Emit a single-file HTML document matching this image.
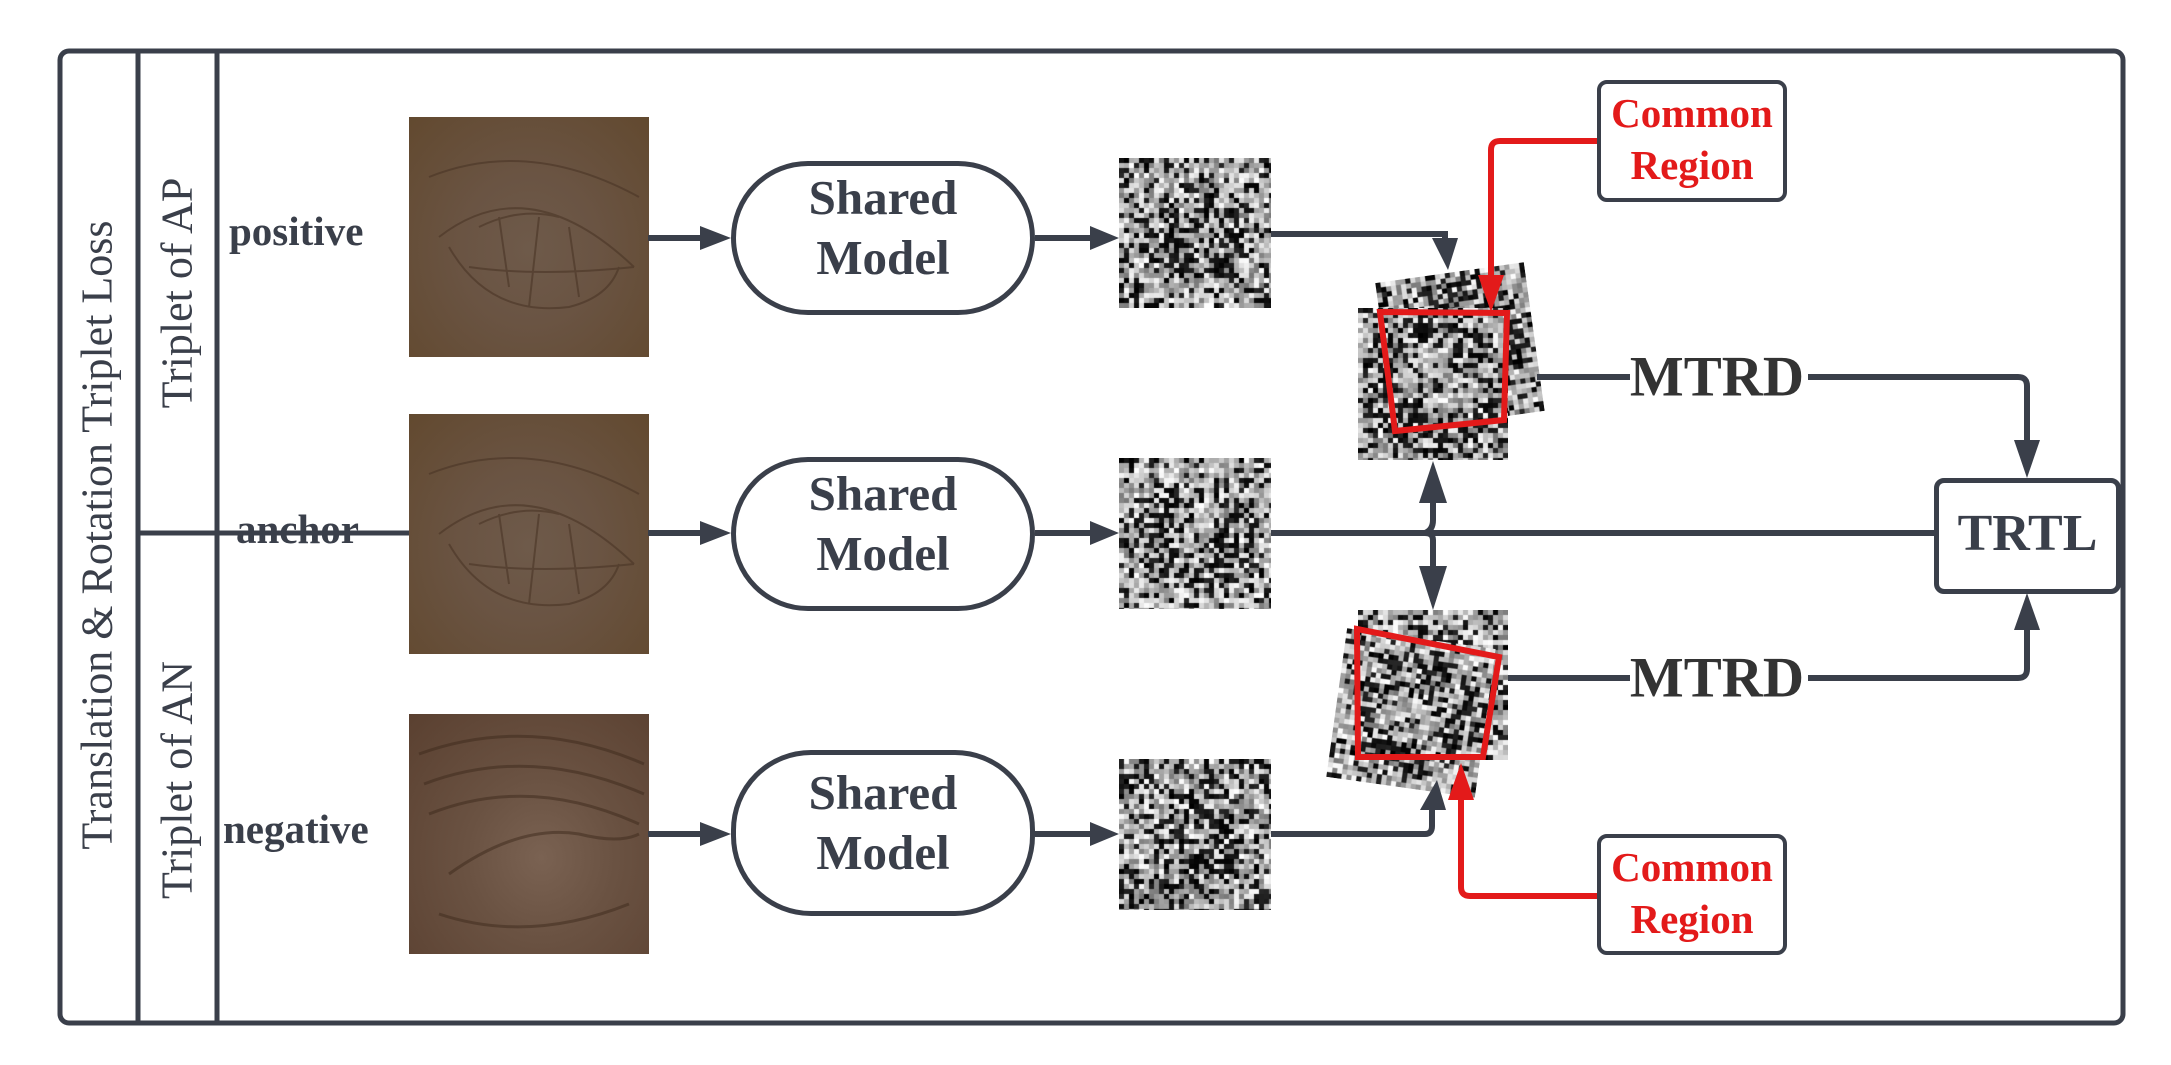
<!DOCTYPE html>
<html><head><meta charset="utf-8">
<style>
html,body{margin:0;padding:0;background:#fff;}
#wrap{position:relative;width:2171px;height:1065px;overflow:hidden;background:#fff;font-family:"Liberation Serif",serif;color:#3a3f4a;}
.abs{position:absolute;}
.skin{position:absolute;width:240px;height:240px;background:radial-gradient(ellipse at 50% 55%,#6e5a4a 0%,#6a5443 40%,#62492f 100%);overflow:hidden;}
.lbl{position:absolute;font-weight:bold;font-size:41px;white-space:nowrap;}
.pill{position:absolute;border:5px solid #3a3f4a;border-radius:80px;background:#fff;box-sizing:border-box;display:flex;align-items:center;justify-content:center;text-align:center;font-weight:bold;font-size:49px;line-height:60px;color:#3a3f4a;padding-bottom:20px;}
.cr{position:absolute;border:4px solid #3a3f4a;border-radius:10px;background:#fff;box-sizing:border-box;display:flex;align-items:center;justify-content:center;text-align:center;font-weight:bold;font-size:41px;line-height:52px;color:#e31a1a;padding-bottom:4px;}
canvas{position:absolute;}
</style></head><body>
<div id="wrap">
<svg class="abs" style="left:0;top:0" width="2171" height="1065">
<rect x="60" y="51" width="2063" height="972" rx="9" fill="none" stroke="#3a3f4a" stroke-width="5"/>
<line x1="138" y1="51" x2="138" y2="1023" stroke="#3a3f4a" stroke-width="5"/>
<line x1="217" y1="51" x2="217" y2="1023" stroke="#3a3f4a" stroke-width="5"/>
</svg>

<div class="abs" style="left:97px;top:535px;transform:translate(-50%,-50%) rotate(-90deg);font-size:44px;white-space:nowrap;">Translation &amp; Rotation Triplet Loss</div>
<div class="abs" style="left:177px;top:293px;transform:translate(-50%,-50%) rotate(-90deg);font-size:44px;white-space:nowrap;">Triplet of AP</div>
<div class="abs" style="left:177px;top:780px;transform:translate(-50%,-50%) rotate(-90deg);font-size:44px;white-space:nowrap;">Triplet of AN</div>

<div class="lbl" style="left:229px;top:207px;">positive</div>
<div class="lbl" style="left:236px;top:505px;">anchor</div>
<div class="lbl" style="left:223px;top:805px;">negative</div>

<svg class="abs" style="left:0;top:0" width="2171" height="1065">
<line x1="138" y1="533" x2="410" y2="533" stroke="#3a3f4a" stroke-width="5"/>
</svg>

<div class="skin" style="left:409px;top:117px;"><svg width="240" height="240"><g fill="none" stroke="#4a3526" stroke-width="2" opacity="0.6"><path d="M30 120 Q120 50 225 150"/><path d="M40 130 Q80 200 160 190 Q200 180 210 150"/><path d="M70 110 Q110 90 150 100"/><path d="M60 150 Q130 160 225 150"/><path d="M90 100 L100 170 M130 100 L120 190 M160 110 L170 180"/><path d="M20 60 Q120 20 230 80"/></g></svg></div>
<div class="skin" style="left:409px;top:414px;"><svg width="240" height="240"><g fill="none" stroke="#4a3526" stroke-width="2" opacity="0.6"><path d="M30 120 Q120 50 225 150"/><path d="M40 130 Q80 200 160 190 Q200 180 210 150"/><path d="M70 110 Q110 90 150 100"/><path d="M60 150 Q130 160 225 150"/><path d="M90 100 L100 170 M130 100 L120 190 M160 110 L170 180"/><path d="M20 60 Q120 20 230 80"/></g></svg></div>
<div class="skin" style="left:409px;top:714px;background:radial-gradient(ellipse at 55% 60%,#7a6252 0%,#6a5242 40%,#5a4030 100%);"><svg width="240" height="240"><g fill="none" stroke="#3e2a1c" stroke-width="3" opacity="0.5"><path d="M10 40 Q120 0 235 50"/><path d="M15 70 Q120 30 235 80"/><path d="M20 100 Q120 60 230 110"/><path d="M40 160 Q110 110 170 120 Q210 130 230 120"/><path d="M30 200 Q120 230 220 190"/></g></svg></div>

<div class="pill" style="left:731px;top:161px;width:304px;height:154px;">Shared<br>Model</div>
<div class="pill" style="left:731px;top:457px;width:304px;height:154px;">Shared<br>Model</div>
<div class="pill" style="left:731px;top:750px;width:304px;height:166px;">Shared<br>Model</div>

<canvas id="f1" width="152" height="150" style="left:1119px;top:158px;"></canvas>
<canvas id="f2" width="152" height="151" style="left:1119px;top:458px;"></canvas>
<canvas id="f3" width="152" height="151" style="left:1119px;top:759px;"></canvas>

<canvas id="r1" width="150" height="150" style="left:1385px;top:272px;transform:rotate(-8deg);"></canvas>
<canvas id="a1" width="150" height="152" style="left:1358px;top:308px;"></canvas>
<canvas id="a2" width="150" height="150" style="left:1358px;top:610px;"></canvas>
<canvas id="r2" width="150" height="150" style="left:1336px;top:638px;transform:rotate(8deg);"></canvas>

<svg class="abs" style="left:0;top:0" width="2171" height="1065">
<g stroke="#3a3f4a" stroke-width="6" fill="none">
<line x1="648" y1="238" x2="700" y2="238"/><line x1="648" y1="533" x2="700" y2="533"/><line x1="648" y1="834" x2="700" y2="834"/>
<line x1="1035" y1="238" x2="1090" y2="238"/><line x1="1035" y1="533" x2="1090" y2="533"/><line x1="1035" y1="834" x2="1090" y2="834"/>
<path d="M1271 234 L1445 234 L1445 240"/>
<path d="M1271 533 L1934 533"/>
<path d="M1537 377 L1630 377 M1808 377 L2018 377 Q2027 377 2027 386 L2027 440"/>
<path d="M1508 678 L1630 678 M1808 678 L2018 678 Q2027 678 2027 669 L2027 630"/>
<path d="M1433 500 L1433 520 Q1433 530 1425 533 M1433 566 L1433 540 Q1433 533 1425 533"/>
<path d="M1271 834 L1425 834 Q1432 834 1432 826 L1432 810"/>
</g>
<g fill="#3a3f4a">
<path d="M700 226 L731 238 L700 250z"/><path d="M700 521 L731 533 L700 545z"/><path d="M700 822 L731 834 L700 846z"/>
<path d="M1090 226 L1119 238 L1090 250z"/><path d="M1090 521 L1119 533 L1090 545z"/><path d="M1090 822 L1119 834 L1090 846z"/>
<path d="M1432 238 L1458 238 L1448 270z"/>
<path d="M2014 440 L2040 440 L2027 478z"/>
<path d="M2014 630 L2040 630 L2027 593z"/>
<path d="M1419 503 L1447 503 L1433 461z"/>
<path d="M1419 566 L1447 566 L1433 610z"/>
<path d="M1420 810 L1446 810 L1437 780z"/>
</g>
<g stroke="#e31a1a" stroke-width="6" fill="none">
<polygon points="1380,312 1507,313 1504,420 1395,431"/>
<polygon points="1357,629 1499,657 1483,757 1358,757"/>
<path d="M1597 141 L1500 141 Q1491 141 1491 150 L1491 280"/>
<path d="M1597 896 L1470 896 Q1461 896 1461 887 L1461 800"/>
</g>
<g fill="#e31a1a">
<path d="M1478 275 L1504 275 L1491 312z"/>
<path d="M1448 800 L1474 800 L1461 763z"/>
</g>
</svg>

<div class="abs" style="left:1717px;top:377px;transform:translate(-50%,-50%);font-weight:bold;font-size:57px;color:#333;">MTRD</div>
<div class="abs" style="left:1717px;top:678px;transform:translate(-50%,-50%);font-weight:bold;font-size:57px;color:#333;">MTRD</div>

<div class="abs" style="left:1934px;top:478px;width:187px;height:116px;border:5px solid #3a3f4a;border-radius:10px;background:#fff;box-sizing:border-box;display:flex;align-items:center;justify-content:center;font-weight:bold;font-size:52px;color:#3a3f4a;padding-bottom:6px;">TRTL</div>

<div class="cr" style="left:1597px;top:80px;width:190px;height:122px;">Common<br>Region</div>
<div class="cr" style="left:1597px;top:834px;width:190px;height:121px;">Common<br>Region</div>
</div>
<script>
function rnd(seed){return function(){seed=(seed*16807)%2147483647;return (seed-1)/2147483646;};}
function noise(id,seed,cell){
 var c=document.getElementById(id),x=c.getContext('2d'),r=rnd(seed);
 var w=c.width,h=c.height;
 for(var j=0;j<h;j+=cell)for(var i=0;i<w;i+=cell){
  var dx=(i-w/2)/w,dy=(j-h/2)/h,d=Math.sqrt(dx*dx+dy*dy);
  var b=0.5+0.25*Math.sin(d*14+seed);
  var v=r();
  var g=v<b*0.7?Math.floor(r()*40):Math.floor(120+r()*135);
  x.fillStyle='rgb('+g+','+g+','+g+')';x.fillRect(i,j,cell,cell);
 }
}
noise('f1',11,5);noise('f2',23,5);noise('f3',37,5);
noise('r1',41,5);noise('a1',53,5);noise('a2',67,5);noise('r2',79,5);
</script>
</body></html>
